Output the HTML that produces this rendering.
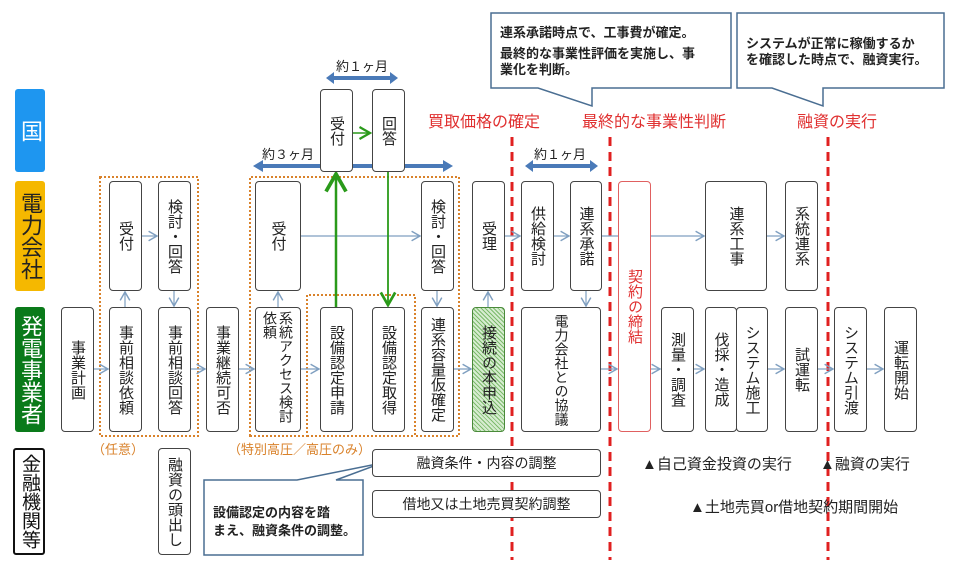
<!DOCTYPE html>
<html><head><meta charset="utf-8"><style>
body{margin:0;background:#fff}
#w{position:relative;width:956px;height:567px;overflow:hidden;font-family:"Liberation Sans","Noto Sans CJK JP",sans-serif;color:#222}
.b{position:absolute;box-sizing:border-box;border:1.5px solid #444;border-radius:4px;background:#fff;display:flex;align-items:center;justify-content:center;writing-mode:vertical-rl;font-size:15px;line-height:17px}
.h{writing-mode:horizontal-tb}
.lane{position:absolute;box-sizing:border-box;border-radius:3px;display:flex;align-items:center;justify-content:center;writing-mode:vertical-rl;font-size:22px;line-height:24px}
.t{position:absolute;white-space:nowrap}
svg{position:absolute;left:0;top:0}
</style></head><body><div id="w">
<svg width="956" height="567">
<defs>
<marker id="ab" markerWidth="10" markerHeight="10" refX="8" refY="5" orient="auto"><path d="M1,1 L8,5 L1,9" fill="none" stroke="#7f9fc0" stroke-width="1.2"/></marker>
<marker id="ag" markerWidth="10" markerHeight="10" refX="8" refY="5" orient="auto"><path d="M1,1 L8,5 L1,9" fill="none" stroke="#2a9a1a" stroke-width="1.5"/></marker>
</defs>
<g fill="none" stroke="#d9822b" stroke-width="2" stroke-dasharray="2,2">
<rect x="100" y="177" width="98" height="259"/>
<path d="M250,436 V177 H459 V436 H415 V295 H307 V436 Z"/>
<path d="M307,436 H413"/>
</g>
<g stroke="#e02020" stroke-width="3" stroke-dasharray="9,6">
<line x1="512" y1="137" x2="512" y2="560"/><line x1="610" y1="137" x2="610" y2="560"/><line x1="828" y1="137" x2="828" y2="560"/>
</g>
<g stroke="#7f9fc0" stroke-width="1.2" marker-end="url(#ab)">
<line x1="93" y1="369" x2="108" y2="369"/><line x1="190" y1="369" x2="205" y2="369"/><line x1="238" y1="369" x2="254" y2="369"/>
<line x1="301" y1="369" x2="319" y2="369"/><line x1="453" y1="369" x2="471" y2="369"/><line x1="601" y1="369" x2="617" y2="369"/>
<line x1="650" y1="369" x2="660" y2="369"/><line x1="693" y1="369" x2="704" y2="369"/><line x1="767" y1="369" x2="784" y2="369"/>
<line x1="817" y1="369" x2="833" y2="369"/><line x1="866" y1="369" x2="883" y2="369"/>
<line x1="141" y1="236" x2="157" y2="236"/><line x1="301" y1="236" x2="420" y2="236"/><line x1="504" y1="236" x2="520" y2="236"/>
<line x1="553" y1="236" x2="569" y2="236"/><line x1="650" y1="236" x2="704" y2="236"/><line x1="767" y1="236" x2="784" y2="236"/>
<line x1="125" y1="307" x2="125" y2="292"/><line x1="174" y1="291" x2="174" y2="306"/><line x1="278" y1="307" x2="278" y2="292"/>
<line x1="437" y1="291" x2="437" y2="306"/><line x1="488" y1="307" x2="488" y2="292"/><line x1="586" y1="291" x2="586" y2="306"/>
</g>
<line x1="601" y1="236" x2="618" y2="236" stroke="#7f9fc0" stroke-width="1.2"/>
<g stroke="#2a9a1a" stroke-width="2.5" marker-end="url(#ag)">
<line x1="336" y1="307" x2="336" y2="174"/><line x1="388" y1="172" x2="388" y2="305" stroke-width="1.8"/><line x1="353" y1="133" x2="370" y2="133" stroke-width="1.5"/>
</g>
<g fill="#4a7ab8">
<path d="M326,78 l8,-6 v4 h56 v-4 l8,6 l-8,6 v-4 h-56 v4 z"/>
<path d="M253,166 l10,-6 v4 h180 v-4 l10,6 l-10,6 v-4 h-180 v4 z"/>
<path d="M525,166 l8,-6 v4 h57 v-4 l8,6 l-8,6 v-4 h-57 v4 z"/>
</g>
<g fill="#fff" stroke="#4a6e92" stroke-width="1.5">
<path d="M491,13 H731 V88 H592 V106 L538,88 H491 Z"/>
<path d="M737,13 H944 V88 H823 V106 L772,88 H737 Z"/>
<path d="M204,480 H297 L382,463 L336,480 H363 V555 H204 Z"/>
</g>
</svg>
<div class="lane" style="left:15px;top:89px;width:30px;height:83px;background:#1e96f0;color:#fff">国</div>
<div class="lane" style="left:15px;top:181px;width:30px;height:110px;background:#f5b800;color:#222">電力会社</div>
<div class="lane" style="left:15px;top:307px;width:30px;height:125px;background:#0a7a1a;color:#fff">発電事業者</div>
<div class="lane" style="left:13px;top:448px;width:32px;height:107px;border:2px solid #111;color:#111;background:#fff;font-size:19px;line-height:20px">金融機関等</div>

<div class="b" style="left:320px;top:89px;width:33px;height:83px">受付</div>
<div class="b" style="left:372px;top:89px;width:33px;height:83px">回答</div>

<div class="b" style="left:109px;top:181px;width:33px;height:110px">受付</div>
<div class="b" style="left:158px;top:181px;width:33px;height:110px">検討・回答</div>
<div class="b" style="left:255px;top:181px;width:46px;height:110px">受付</div>
<div class="b" style="left:421px;top:181px;width:33px;height:110px">検討・回答</div>
<div class="b" style="left:472px;top:181px;width:33px;height:110px">受理</div>
<div class="b" style="left:521px;top:181px;width:33px;height:110px">供給検討</div>
<div class="b" style="left:570px;top:181px;width:32px;height:110px">連系承諾</div>
<div class="b" style="left:705px;top:181px;width:62px;height:110px">連系工事</div>
<div class="b" style="left:785px;top:181px;width:33px;height:110px">系統連系</div>
<div class="b" style="left:618px;top:181px;width:33px;height:251px;border-color:#e06060;color:#e03030">契約の締結</div>

<div class="b" style="left:61px;top:307px;width:33px;height:125px">事業計画</div>
<div class="b" style="left:109px;top:307px;width:33px;height:125px">事前相談依頼</div>
<div class="b" style="left:158px;top:307px;width:33px;height:125px">事前相談回答</div>
<div class="b" style="left:206px;top:307px;width:33px;height:125px">事業継続可否</div>
<div class="b" style="left:255px;top:307px;width:46px;height:125px;justify-content:flex-start;padding-top:3px;font-size:14px;line-height:16px">系統アクセス検討<br>依頼</div>
<div class="b" style="left:320px;top:307px;width:33px;height:125px">設備認定申請</div>
<div class="b" style="left:372px;top:307px;width:33px;height:125px">設備認定取得</div>
<div class="b" style="left:421px;top:307px;width:33px;height:125px">連系容量仮確定</div>
<div class="b" style="left:472px;top:307px;width:33px;height:125px;background:repeating-linear-gradient(45deg,#d6ecd0 0 2px,#7dbb6c 2px 3px);border-color:#4a8a3a">接続の本申込</div>
<div class="b" style="left:521px;top:307px;width:80px;height:125px;justify-content:flex-start;padding-top:6px;font-size:14px;line-height:15px">電力会社との協議</div>
<div class="b" style="left:661px;top:307px;width:33px;height:125px">測量・調査</div>
<div class="b" style="left:705px;top:307px;width:32px;height:125px">伐採・造成</div>
<div class="b" style="left:736px;top:307px;width:32px;height:125px">システム施工</div>
<div class="b" style="left:785px;top:307px;width:33px;height:125px">試運転</div>
<div class="b" style="left:834px;top:307px;width:33px;height:125px">システム引渡</div>
<div class="b" style="left:884px;top:307px;width:33px;height:125px">運転開始</div>

<div class="b" style="left:158px;top:448px;width:33px;height:107px">融資の頭出し</div>
<div class="b h" style="left:372px;top:449px;width:229px;height:28px;font-size:14px">融資条件・内容の調整</div>
<div class="b h" style="left:372px;top:490px;width:229px;height:28px;font-size:14px">借地又は土地売買契約調整</div>

<div class="t" style="left:336px;top:56px;font-size:13px">約１ヶ月</div>
<div class="t" style="left:262px;top:144px;font-size:13px">約３ヶ月</div>
<div class="t" style="left:534px;top:144px;font-size:13px">約１ヶ月</div>
<div class="t" style="left:428px;top:108px;font-size:16px;color:#e03030">買取価格の確定</div>
<div class="t" style="left:582px;top:108px;font-size:16px;color:#e03030">最終的な事業性判断</div>
<div class="t" style="left:797px;top:108px;font-size:16px;color:#e03030">融資の実行</div>
<div class="t" style="left:500px;top:22px;font-size:13px;line-height:21px;font-weight:bold">連系承諾時点で、工事費が確定。<br>最終的な事業性評価を実施し、事<br><span style="position:relative;top:-5px">業化を判断。</span></div>
<div class="t" style="left:746px;top:36px;font-size:13px;line-height:16px;font-weight:bold">システムが正常に稼働するか<br>を確認した時点で、融資実行。</div>
<div class="t" style="left:213px;top:504px;font-size:13px;line-height:18px;font-weight:bold">設備認定の内容を踏<br>まえ、融資条件の調整。</div>
<div class="t" style="left:92px;top:439px;font-size:13px;color:#d9822b">（任意）</div>
<div class="t" style="left:228px;top:439px;font-size:13px;color:#d9822b">（特別高圧／高圧のみ）</div>
<div class="t" style="left:642px;top:453px;font-size:15px">▲自己資金投資の実行</div>
<div class="t" style="left:820px;top:453px;font-size:15px">▲融資の実行</div>
<div class="t" style="left:690px;top:496px;font-size:15px">▲土地売買or借地契約期間開始</div>
</div></body></html>
